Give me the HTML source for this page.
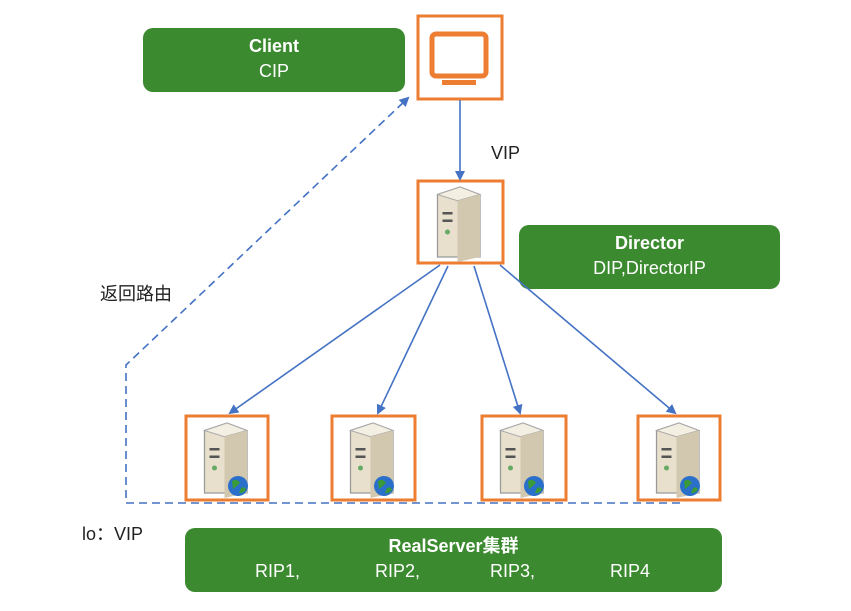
<!DOCTYPE html>
<html><head><meta charset="utf-8"><style>
body{margin:0;width:851px;height:611px;background:#fff;position:relative;overflow:hidden;font-family:"Liberation Sans","Noto Sans CJK SC",sans-serif}
.g{position:absolute;background:#3b8a2f;border-radius:10px;color:#fff;text-align:center;font-size:18px;line-height:25px}
.g b{display:block}
.t{position:absolute;font-size:18px;color:#222}
</style></head><body>
<div class="g" style="left:143px;top:28px;width:262px;height:64px;padding-top:6px;box-sizing:border-box"><b>Client</b>CIP</div>
<div class="g" style="left:519px;top:225px;width:261px;height:64px;padding-top:6px;box-sizing:border-box"><b>Director</b>DIP,DirectorIP</div>
<div class="g" style="left:185px;top:528px;width:537px;height:64px;padding-top:6px;box-sizing:border-box"><b>RealServer集群</b>
<span style="position:absolute;left:70px;top:31px">RIP1,</span><span style="position:absolute;left:190px;top:31px">RIP2,</span><span style="position:absolute;left:305px;top:31px">RIP3,</span><span style="position:absolute;left:425px;top:31px">RIP4</span></div>
<div class="t" style="left:491px;top:143px">VIP</div>
<div class="t" style="left:100px;top:280px">返回路由</div>
<div class="t" style="left:82px;top:520px">lo：VIP</div>
<svg width="851" height="611" style="position:absolute;left:0;top:0">
<defs>
<marker id="a" markerWidth="10" markerHeight="10" refX="8" refY="5" orient="auto" markerUnits="userSpaceOnUse"><path d="M0,0 L10,5 L0,10z" fill="#4472c4"/></marker>
<g id="srv" transform="scale(1.25)"><path d="M-14,-22 L4,-28 L20,-22 L20,28 L-14,28z" fill="#e8e0cc" stroke="#999" stroke-width="1"/><path d="M-14,-22 L4,-28 L20,-22 L2,-17z" fill="#f4efe3" stroke="#aaa" stroke-width="0.8"/><path d="M2,-17 L20,-22 L20,28 L2,32z" fill="#d2c8b0"/><rect x="-10" y="-8" width="8" height="2" fill="#555"/><rect x="-10" y="-2" width="8" height="2" fill="#555"/><circle cx="-6" cy="8" r="2" fill="#6a6"/></g>
<g id="gl"><circle r="10" fill="#2a6fc9"/><path d="M-6,-5 Q-1,-8 2,-3 Q-2,1 -5,3z M3,2 Q7,0 8,4 Q4,8 1,7z" fill="#3a9a3a"/></g>
</defs>
<g fill="none" stroke="#ed7d31" stroke-width="3">
<rect x="418" y="16" width="84" height="83"/>
<rect x="418" y="181" width="85" height="82"/>
<rect x="186" y="416" width="82" height="84"/>
<rect x="332" y="416" width="83" height="84"/>
<rect x="482" y="416" width="84" height="84"/>
<rect x="638" y="416" width="82" height="84"/>
<rect x="432" y="34" width="54" height="42" rx="4" stroke-width="5"/>
</g>
<rect x="442" y="80" width="34" height="5" fill="#ed7d31"/>
<use href="#srv" x="455" y="222"/>
<use href="#srv" x="222" y="458"/><use href="#srv" x="368" y="458"/><use href="#srv" x="518" y="458"/><use href="#srv" x="674" y="458"/>
<use href="#gl" x="238" y="486"/><use href="#gl" x="384" y="486"/><use href="#gl" x="534" y="486"/><use href="#gl" x="690" y="486"/>
<g stroke="#4472c4" stroke-width="1.6" fill="none" marker-end="url(#a)">
<line x1="460" y1="100" x2="460" y2="179"/>
<line x1="440" y1="265" x2="230" y2="413"/>
<line x1="448" y1="266" x2="378" y2="413"/>
<line x1="474" y1="266" x2="520" y2="413"/>
<line x1="500" y1="265" x2="675" y2="413"/>
<polyline points="680,503 126,503 126,365 408,98" stroke-dasharray="8,5"/>
</g>
</svg>
</body></html>
